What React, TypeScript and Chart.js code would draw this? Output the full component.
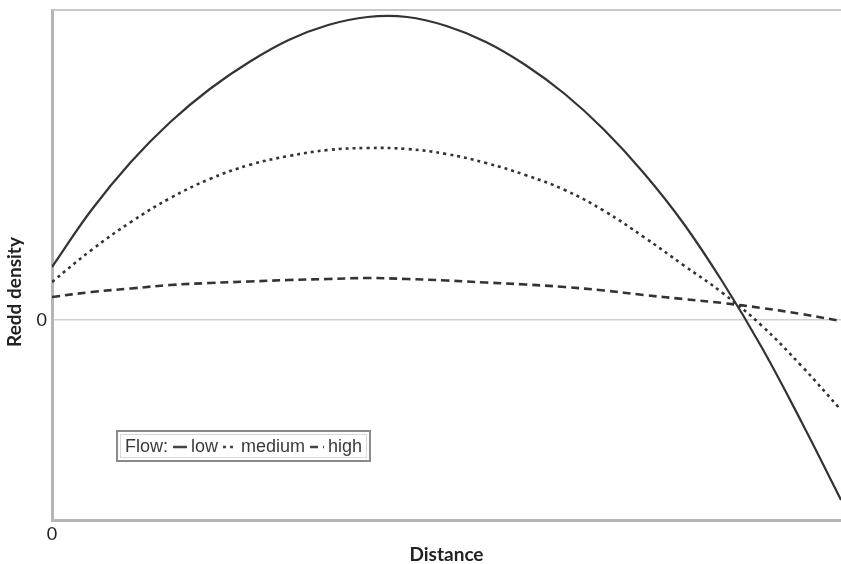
import React, { useEffect, useRef } from 'react';
import { Chart, registerables } from 'chart.js';

Chart.register(...registerables);

// Distance along the reach (arbitrary units, axis shows only 0)
const distance = [0, 5, 10, 15, 20, 25, 30, 35, 40, 45, 50, 55, 60, 65, 70, 75, 80, 85, 90, 95, 100];

// Redd density for each flow level (arbitrary units, 0 = zero line)
const lowFlow = [5.3, 11.0, 15.8, 19.8, 23.1, 25.8, 28.0, 29.5, 30.3, 30.3, 29.4, 27.8, 25.5, 22.6, 19.0, 14.7, 9.7, 3.8, -2.8, -10.2, -18.0];
const mediumFlow = [3.8, 7.0, 9.8, 12.2, 14.1, 15.5, 16.4, 17.0, 17.2, 17.1, 16.6, 15.7, 14.5, 13.0, 10.9, 8.3, 5.5, 2.7, -0.6, -4.6, -9.0];
const highFlow = [2.3, 2.8, 3.15, 3.5, 3.7, 3.85, 4.0, 4.1, 4.2, 4.1, 3.95, 3.75, 3.55, 3.3, 2.95, 2.5, 2.1, 1.7, 1.2, 0.6, -0.1];

const xTickValues = [0];
const xTickLabels = ['0'];
const yTickValues = [0];
const yTickLabels = ['0'];

const xTitle = 'Distance';
const yTitle = 'Redd density';
const legendTitle = 'Flow:';
const seriesNames = ['low', 'medium', 'high'];
const seriesDashes: number[][] = [[], [3, 4], [8, 5]];

const LINE_COLOR = '#333333';

export default function App() {
  const ref = useRef<HTMLCanvasElement | null>(null);

  useEffect(() => {
    if (!ref.current) return;

    const toPoints = (ys: number[]) => distance.map((x, i) => ({ x, y: ys[i] }));

    const decor = {
      id: 'decor',
      afterDraw(chart: any) {
        const { ctx, chartArea: a } = chart;
        ctx.save();
        // top frame line
        ctx.strokeStyle = '#c8c8c8';
        ctx.lineWidth = 2;
        ctx.beginPath();
        ctx.moveTo(a.left, a.top);
        ctx.lineTo(a.right, a.top);
        ctx.stroke();

        // axis titles
        ctx.fillStyle = '#222';
        ctx.font = 'bold 19px Lato';
        ctx.textAlign = 'center';
        ctx.textBaseline = 'middle';
        ctx.fillText(xTitle, (a.left + a.right) / 2, 555);
        ctx.save();
        ctx.translate(15, 292);
        ctx.rotate(-Math.PI / 2);
        ctx.fillText(yTitle, 0, 0);
        ctx.restore();

        // legend box
        const bx = 117, by = 431, bw = 253, bh = 30;
        ctx.fillStyle = '#ffffff';
        ctx.fillRect(bx, by, bw, bh);
        ctx.strokeStyle = '#8a8a8a';
        ctx.lineWidth = 2;
        ctx.strokeRect(bx, by, bw, bh);
        ctx.strokeStyle = '#d8d8d8';
        ctx.lineWidth = 1;
        ctx.strokeRect(bx + 3.5, by + 3.5, bw - 7, bh - 7);

        ctx.font = '18px "Liberation Sans"';
        ctx.fillStyle = '#3a3a3a';
        ctx.textAlign = 'left';
        ctx.textBaseline = 'middle';
        const cy = by + bh / 2 + 1;
        let x = bx + 8;
        ctx.fillText(legendTitle, x, cy);
        x += ctx.measureText(legendTitle).width + 5;
        seriesNames.forEach((name, i) => {
          ctx.save();
          ctx.strokeStyle = '#444';
          ctx.lineWidth = 2.5;
          ctx.setLineDash(seriesDashes[i]);
          ctx.beginPath();
          ctx.moveTo(x, cy);
          ctx.lineTo(x + 14, cy);
          ctx.stroke();
          ctx.restore();
          x += 18;
          ctx.fillText(name, x, cy);
          x += ctx.measureText(name).width + 5;
        });
        ctx.restore();
      },
    };

    const chart = new Chart(ref.current, {
      type: 'line',
      data: {
        datasets: [
          { label: seriesNames[0], data: toPoints(lowFlow), borderColor: LINE_COLOR, borderWidth: 2.2, borderDash: seriesDashes[0], pointRadius: 0, tension: 0.4, fill: false },
          { label: seriesNames[1], data: toPoints(mediumFlow), borderColor: LINE_COLOR, borderWidth: 2.6, borderDash: seriesDashes[1], pointRadius: 0, tension: 0.4, fill: false },
          { label: seriesNames[2], data: toPoints(highFlow), borderColor: LINE_COLOR, borderWidth: 2.6, borderDash: seriesDashes[2], pointRadius: 0, tension: 0.4, fill: false },
        ],
      },
      options: {
        animation: false,
        responsive: false,
        devicePixelRatio: 1,
        layout: { padding: { top: 10, right: 0, left: 0, bottom: 0 } },
        plugins: { legend: { display: false }, tooltip: { enabled: false }, title: { display: false } },
        scales: {
          x: {
            type: 'linear',
            min: 0,
            max: 100,
            afterBuildTicks: (s: any) => { s.ticks = xTickValues.map((v) => ({ value: v })); },
            afterFit: (s: any) => { s.height = 44; s.paddingLeft = 0; s.paddingRight = 0; },
            ticks: {
              callback: (v: any) => { const i = xTickValues.indexOf(Number(v)); return i >= 0 ? xTickLabels[i] : ''; },
              font: { family: 'Lato', size: 18 },
              color: '#222',
              padding: 3,
              maxRotation: 0,
            },
            grid: { display: true, drawOnChartArea: false, drawTicks: false },
            border: { display: true, color: '#b5b5b5', width: 3 },
          },
          y: {
            type: 'linear',
            min: -20,
            max: 31,
            afterBuildTicks: (s: any) => { s.ticks = yTickValues.map((v) => ({ value: v })); },
            afterFit: (s: any) => { s.width = 52; s.paddingTop = 0; s.paddingBottom = 0; },
            ticks: {
              callback: (v: any) => { const i = yTickValues.indexOf(Number(v)); return i >= 0 ? yTickLabels[i] : ''; },
              font: { family: 'Lato', size: 18 },
              color: '#222',
              padding: 5,
            },
            grid: { display: true, color: '#d0d0d0', lineWidth: 1.5, drawTicks: false },
            border: { display: true, color: '#b5b5b5', width: 3 },
          },
        },
      },
      plugins: [decor],
    });

    return () => chart.destroy();
  }, []);

  return (
    <div style={{ position: 'absolute', left: 0, top: 0, width: 841, height: 564, background: '#fff' }}>
      <canvas ref={ref} width={841} height={564} />
    </div>
  );
}
